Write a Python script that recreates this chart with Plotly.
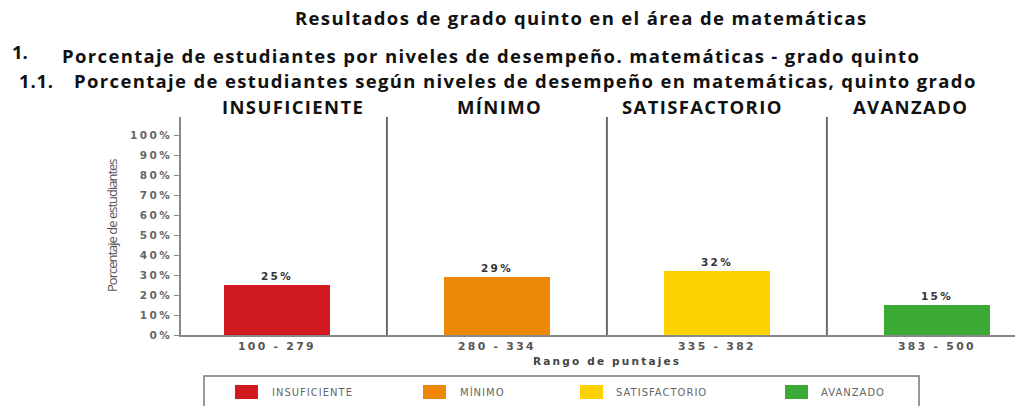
import plotly.graph_objects as go

# Desempeño en matemáticas, grado quinto
niveles = ["INSUFICIENTE", "MÍNIMO", "SATISFACTORIO", "AVANZADO"]
rangos = ["100 - 279", "280 - 334", "335 - 382", "383 - 500"]
porcentajes = [25, 29, 32, 15]
colores = ["#d01a1f", "#ec8806", "#fcd200", "#3aaa35"]
y_ticks = list(range(0, 101, 10))

W, H = 1021, 406
ML, MR, MT, MB = 181, 6, 117, 71
PW, PH = W - ML - MR, H - MT - MB


def px(x):
    return (x - ML) / PW


def py(y):
    return (H - MB - y) / PH


def spaced(texto, ls):
    return f'<span style="letter-spacing:{ls}px">{texto}</span>'


fig = go.Figure()
fig.add_trace(go.Bar(
    x=list(range(len(rangos))),
    y=porcentajes,
    marker=dict(color=colores, line=dict(width=0)),
    width=0.485,
    text=[spaced(f"{v}%", 2.3) for v in porcentajes],
    textposition="outside",
    textfont=dict(family="DejaVu Sans", size=10.5, color="#333", weight="bold"),
    cliponaxis=False,
    showlegend=False,
))

# separadores entre niveles
for b in [0.5, 1.5, 2.5]:
    fig.add_shape(type="line", xref="x", yref="paper", x0=b, x1=b, y0=0, y1=1,
                  line=dict(color="#6b6b6b", width=2))

ann = []
title_font = dict(family="Open Sans", size=18.5, color="#111", weight="bold")
LS = 1.35
ann.append(dict(text=spaced("Resultados de grado quinto en el área de matemáticas", LS),
                x=px(581), y=py(18), xanchor="center", yanchor="middle", font=title_font))
ann.append(dict(text="1.", x=px(10), y=py(51), xanchor="left", yanchor="middle", font=title_font))
ann.append(dict(text=spaced("Porcentaje de estudiantes por niveles de desempeño. matemáticas - grado quinto", LS),
                x=px(60), y=py(55.5), xanchor="left", yanchor="middle", font=title_font))
ann.append(dict(text=spaced("1.1.", 0.8), x=px(17), y=py(80), xanchor="left", yanchor="middle", font=title_font))
ann.append(dict(text=spaced("Porcentaje de estudiantes según niveles de desempeño en matemáticas, quinto grado", LS),
                x=px(72), y=py(80.5), xanchor="left", yanchor="middle", font=title_font))
for nombre, cx in zip(niveles, [293, 499, 702, 910]):
    ann.append(dict(text=spaced(nombre, LS), x=px(cx), y=py(106), xanchor="center", yanchor="middle",
                    font=title_font))

# leyenda
fig.add_shape(type="rect", xref="paper", yref="paper", x0=px(204), x1=px(919),
              y0=py(376), y1=py(420), line=dict(color="#777", width=1.5), fillcolor="white")
leg_sq = [235, 423, 580, 785]
leg_tx = [270, 458, 614, 819]
for nombre, c, sx, tx in zip(niveles, colores, leg_sq, leg_tx):
    fig.add_shape(type="rect", xref="paper", yref="paper", x0=px(sx), x1=px(sx + 23),
                  y0=py(399), y1=py(385), line=dict(width=0), fillcolor=c)
    ann.append(dict(text=spaced(nombre, 1), x=px(tx), y=py(392), xanchor="left", yanchor="middle",
                    font=dict(family="DejaVu Sans", size=10, color="#666")))

ann.append(dict(text=spaced("Porcentaje de estudiantes", -1.0), x=px(112), y=py(226), textangle=-90,
                xanchor="center", yanchor="middle",
                font=dict(family="Open Sans", size=13, color="#555")))
ann.append(dict(text=spaced("Rango de puntajes", 2.2), x=px(607), y=py(361), xanchor="center", yanchor="middle",
                font=dict(family="DejaVu Sans", size=10.5, color="#444", weight="bold")))

for a in ann:
    a.update(xref="paper", yref="paper", showarrow=False)

fig.update_layout(
    width=W, height=H,
    margin=dict(l=ML, r=MR, t=MT, b=MB, pad=0),
    paper_bgcolor="white", plot_bgcolor="white",
    annotations=ann,
    bargap=0,
    xaxis=dict(range=[-0.436, 3.355], tickvals=list(range(len(rangos))),
               ticktext=[spaced(r, 2.3) for r in rangos],
               showgrid=False, zeroline=False, showline=True, linecolor="#888", linewidth=1.5,
               ticks="", tickfont=dict(family="DejaVu Sans", size=10.8, color="#555", weight="bold")),
    yaxis=dict(range=[0, 109], tickvals=y_ticks,
               ticktext=[spaced(f"{v}%", 2.4) for v in y_ticks],
               showgrid=False, zeroline=False, showline=True, linecolor="#888", linewidth=1.5,
               ticks="outside", ticklen=5, tickcolor="#888",
               tickfont=dict(family="DejaVu Sans", size=10.5, color="#666", weight="bold")),
)

fig.write_html("out.html")
